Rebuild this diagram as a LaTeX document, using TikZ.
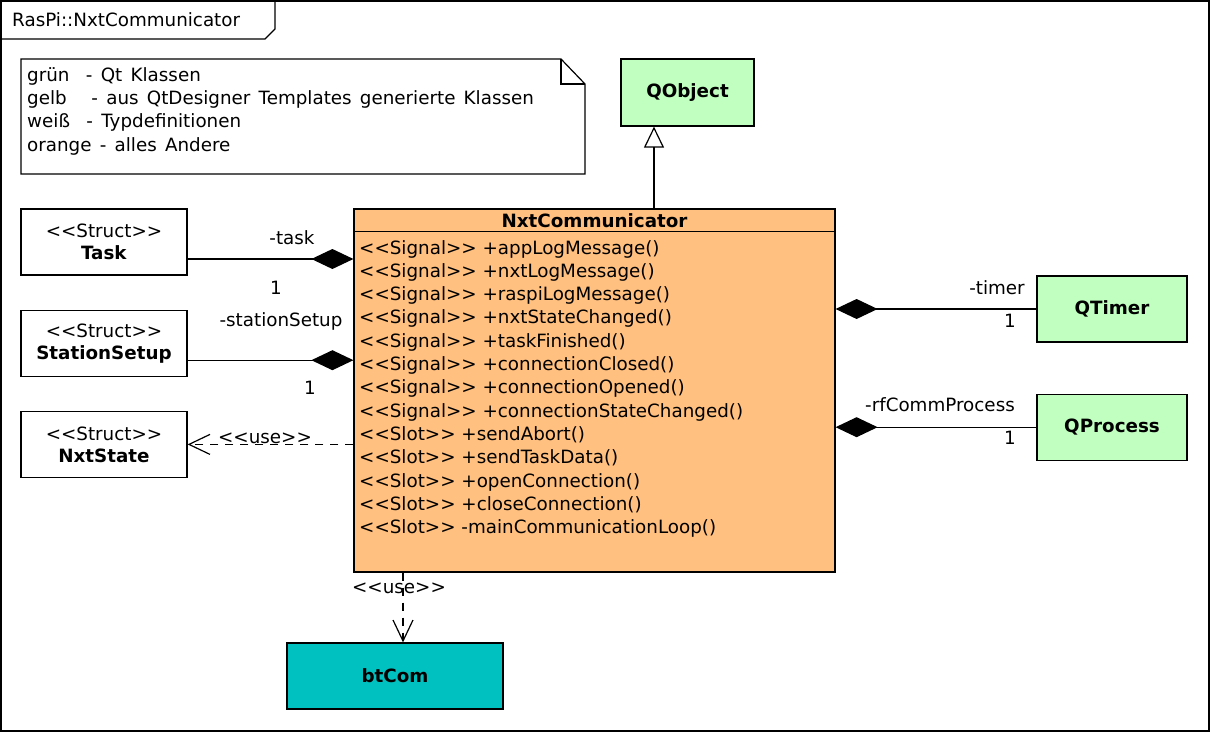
\documentclass[tikz,border=0pt]{standalone}
\usepackage{fontspec}
\setmainfont{DejaVu Sans}[Ligatures=TeXOff]
\usepackage{xcolor}
\usetikzlibrary{arrows.meta, positioning}
\definecolor{qtgreen}{RGB}{192,255,192}
\definecolor{otherorange}{RGB}{255,192,128}
\definecolor{modteal}{RGB}{0,192,192}
\newcommand{\legendfont}{\fontsize{18.3}{23.3}\selectfont\spaceskip=0.45em\relax}
\tikzset{
every node/.style={font=\fontsize{18.3}{22}\selectfont}, % same type in every box and label
classbox/.style={draw, line width=1.2pt, minimum width=166pt, minimum height=66pt, align=center, inner sep=0pt}, % one class
member/.style={anchor=west, inner sep=0pt, text height=13pt, text depth=3pt}, % one line of the member list
compose/.style={line width=1.2pt, -{Diamond[length=42pt, width=20pt]}}, % composition, diamond at the owner
depend/.style={line width=1.2pt, dash pattern=on 8pt off 7pt, -{Straight Barb[length=21pt, width=20pt]}}, % <<use>>
inherit/.style={line width=1.2pt, -{Triangle[open, length=21pt, width=20pt, fill=white]}}, % generalisation
}

\begin{document}
\begin{tikzpicture}[x=1pt, y=-1pt]
    \useasboundingbox (0,0) rectangle (1211,733);

    % package frame
    \draw[line width=1.2pt] (1,1) rectangle (1209,731);
    \draw[line width=1.2pt] (1,39) -- (265,39) -- (275,29) -- (275,1);
    \node[anchor=west, inner sep=0pt] (pkg) at (12,20) {RasPi::NxtCommunicator};

    % legend
    \draw[line width=1.2pt] (21,59) -- (561,59) -- (585,84) -- (585,174) -- (21,174) -- cycle;
    \draw[line width=1.2pt] (561,59) -- (561,84) -- (585,84);
    \node[anchor=north west, inner sep=0pt, align=left, font=\legendfont] (notetext) at (27,67)
        {grün~~- Qt Klassen\\gelb~~~- aus QtDesigner Templates generierte Klassen\\weiß~~- Typdefinitionen\\orange - alles Andere};

    % classes
    \node[classbox, fill=qtgreen, minimum width=133pt, minimum height=67pt] (qobject) at (687.5,92.5) {\textbf{QObject}};
    \node[classbox, fill=otherorange, minimum width=481pt, minimum height=363pt] (comm) at (594.5,390.5) {};
    \draw[line width=1.2pt] (comm.north west) ++(0,23) coordinate (hdr) -- (hdr -| comm.east);
    \node (commtitle) at (594.5,220.5) {\textbf{NxtCommunicator}};
    \foreach \m [count=\i from 0] in {%
        {<<Signal>> +appLogMessage()}, {<<Signal>> +nxtLogMessage()},
        {<<Signal>> +raspiLogMessage()}, {<<Signal>> +nxtStateChanged()},
        {<<Signal>> +taskFinished()}, {<<Signal>> +connectionClosed()},
        {<<Signal>> +connectionOpened()}, {<<Signal>> +connectionStateChanged()},
        {<<Slot>> +sendAbort()}, {<<Slot>> +sendTaskData()},
        {<<Slot>> +openConnection()}, {<<Slot>> +closeConnection()},
        {<<Slot>> -mainCommunicationLoop()}}
        \node[member] (m\i) at (359,{249+23.3*\i}) {\m};

    \node[classbox] (task) at (104,242) {<<Struct>>\\\textbf{Task}};
    \node[classbox, below=34pt of task] (setup) {<<Struct>>\\\textbf{StationSetup}};
    \node[classbox, below=34pt of setup] (state) {<<Struct>>\\\textbf{NxtState}};

    \node[classbox, fill=qtgreen, minimum width=150pt] (timer) at (1112,309) {\textbf{QTimer}};
    \node[classbox, fill=qtgreen, minimum width=150pt, below=51pt of timer] (process) {\textbf{QProcess}};
    \node[classbox, fill=modteal, minimum width=216pt] (btcom) at (395,676) {\textbf{btCom}};

    % relations
    \draw[inherit] ([xshift=-33.5pt]qobject.south |- comm.north) -- ([xshift=-33.5pt]qobject.south);
    \draw[compose] ([yshift=-17pt]task.east) -- ([yshift=-17pt]task.east -| comm.west);
    \draw[compose] ([yshift=-17pt]setup.east) -- ([yshift=-17pt]setup.east -| comm.west);
    \draw[compose] (timer.west) -- (timer.west -| comm.east);
    \draw[compose] (process.west) -- (process.west -| comm.east);
    \draw[depend] (comm.west |- state.east) -- (state.east);
    \draw[depend] ([xshift=8pt]btcom.north |- comm.south) -- ([xshift=8pt]btcom.north);

    % role names and multiplicities
    \node (tasklbl) at (292,238) {-task};
    \node (taskmult) at (276,288) {1};
    \node (setuplbl) at (281,321) {-stationSetup};
    \node (setupmult) at (310,388) {1};
    \node (timerlbl) at (997,288) {-timer};
    \node (timermult) at (1010,321) {1};
    \node (proclbl) at (940,405) {-rfCommProcess};
    \node (procmult) at (1010,438) {1};
    \node (stateuse) at (265,438) {<<use>>};
    \node (btcomuse) at (399,588) {<<use>>};
\end{tikzpicture}
\end{document}
